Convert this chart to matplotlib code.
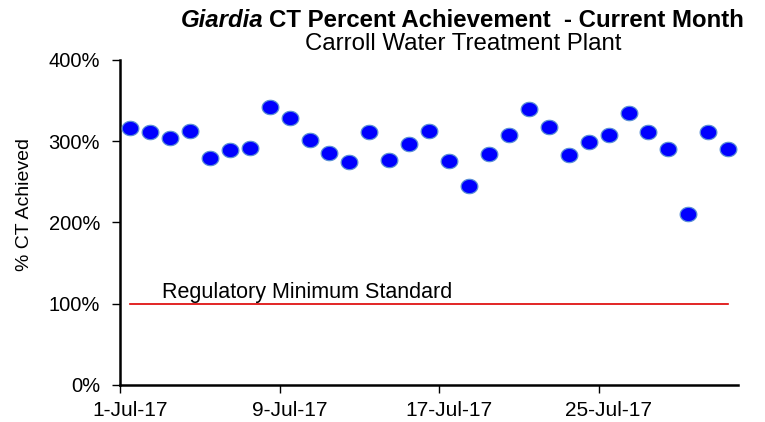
import numpy as np
import matplotlib
matplotlib.use("Agg")
import matplotlib.pyplot as plt
import matplotlib.transforms as mtransforms
from matplotlib.path import Path
import datetime as dt

plt.rcParams['font.family'] = ['Liberation Sans', 'DejaVu Sans']

# daily CT percent achieved, July 2017
days = [dt.datetime(2017, 7, d) for d in range(1, 32)]
ct_pct = [316, 311, 304, 313, 279, 289, 291, 342, 329, 301,
          285, 274, 311, 277, 297, 313, 276, 245, 284, 308,
          339, 317, 283, 299, 307, 335, 311, 290, 210, 311, 290]
reg_min = 100
tick_days = [dt.datetime(2017, 7, d) for d in (1, 9, 17, 25)]
tick_labels = ["1-Jul-17", "9-Jul-17", "17-Jul-17", "25-Jul-17"]
y_ticks = [0, 100, 200, 300, 400]

fig = plt.figure(figsize=(7.65, 4.22), dpi=100)
ax = fig.add_axes([0.157, 0.088, 0.808, 0.770])

# points sit between tick marks, like the spreadsheet chart
half = dt.timedelta(hours=12)
x = [d + half for d in days]

# slightly wide ellipse marker
t = np.linspace(0, 2 * np.pi, 60)
ellipse = Path(np.column_stack([np.cos(t), 0.86 * np.sin(t)]), closed=True)

ax.plot([x[0], x[-1]], [reg_min, reg_min], color="#dd0000", lw=1.2, zorder=2)
ax.plot(x, ct_pct, ls="none", marker=ellipse, ms=12, mfc="#0000ff",
        mec="#5b8fd6", mew=0.9, zorder=3)

ax.text(dt.datetime(2017, 7, 3, 2), 107, "Regulatory Minimum Standard",
        fontsize=15.5, ha="left", va="baseline")

ax.set_xlim(dt.datetime(2017, 7, 1), dt.datetime(2017, 8, 1))
ax.set_ylim(0, 400)
ax.set_xticks(tick_days)
ax.set_xticklabels(tick_labels, fontsize=15)
ax.set_yticks(y_ticks)
ax.set_yticklabels([f"{v}%" for v in y_ticks], fontsize=14.5)
ax.tick_params(direction="out", length=5.5, width=1, color="black", pad=9)
ax.tick_params(axis="x", pad=6)

# date labels sit a little right of their ticks
shift = mtransforms.ScaledTranslation(10 / 100, 0, fig.dpi_scale_trans)
for lab in ax.get_xticklabels():
    lab.set_transform(lab.get_transform() + shift)

for s in ("top", "right"):
    ax.spines[s].set_visible(False)
for s in ("left", "bottom"):
    ax.spines[s].set_linewidth(1.8)

ax.set_ylabel("% CT Achieved", fontsize=14)
ax.yaxis.set_label_coords(-0.141, 0.554)

t1 = fig.text(181 / 765, 0.936, "Giardia", fontsize=17.3, fontweight="bold",
              style="italic", ha="left", va="baseline")
ax.annotate("CT Percent Achievement  - Current Month", xy=(1, 0),
            xycoords=t1, xytext=(5, 0), textcoords="offset pixels",
            fontsize=17.3, fontweight="bold",
            ha="left", va="bottom", annotation_clip=False)
fig.text(463 / 765, 0.882, "Carroll Water Treatment Plant", fontsize=17.3,
         ha="center", va="baseline")

fig.savefig("out.png", dpi=100)
